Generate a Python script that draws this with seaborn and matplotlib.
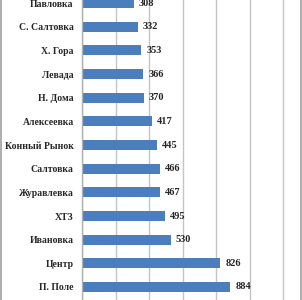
import pandas as pd
import matplotlib.pyplot as plt
import seaborn as sns
from matplotlib.lines import Line2D

# районы и значения (сверху вниз)
districts = ['Павловка', 'С. Салтовка', 'Х. Гора', 'Левада', 'Н. Дома', 'Алексеевка',
             'Конный Рынок', 'Салтовка', 'Журавлевка', 'ХТЗ', 'Ивановка', 'Центр', 'П. Поле']
values = [308, 332, 353, 366, 370, 417, 445, 466, 467, 495, 530, 826, 884]
grid_ticks = [0, 200, 400, 600, 800, 1000, 1200]

df = pd.DataFrame({'district': districts, 'value': values})

sns.set_style('white')
plt.rcParams['font.family'] = ['Liberation Serif', 'DejaVu Serif']

fig = plt.figure(figsize=(3.02, 3.0), dpi=100)
ax = fig.add_axes([82 / 302, 0, (301 - 82) / 302, 1])

sns.barplot(x='value', y='district', data=df, order=districts, color='#4a7ebd',
            saturation=1, width=0.42, linewidth=0, ax=ax, orient='h')

ax.set_xlim(0, 1307)
ax.set_ylim(12.55, -0.13)
ax.set_xticks(grid_ticks)
ax.xaxis.grid(True, color='#c4c4c4', linewidth=1.0)
ax.set_axisbelow(True)
ax.set_xlabel('')
ax.set_ylabel('')
ax.tick_params(axis='x', labelbottom=False, length=0)
ax.tick_params(axis='y', length=0, pad=6, labelsize=7)
for lbl in ax.get_yticklabels():
    lbl.set_fontweight('bold')

for s in ['top', 'bottom', 'right']:
    ax.spines[s].set_visible(False)
ax.spines['left'].set_color('#b0b0b0')
ax.spines['left'].set_linewidth(1.0)

# подписи значений
for i, v in enumerate(values):
    ax.text(v + 30, i, str(v), va='center', ha='left', fontsize=7.5, fontweight='bold')

# рамка по краям картинки
fig.add_artist(Line2D([0.002, 0.002], [0, 1], color='#a0a0a0', linewidth=1.2))
fig.add_artist(Line2D([0.997, 0.997], [0, 1], color='#a0a0a0', linewidth=1.2))

fig.savefig('out.png', dpi=100)
